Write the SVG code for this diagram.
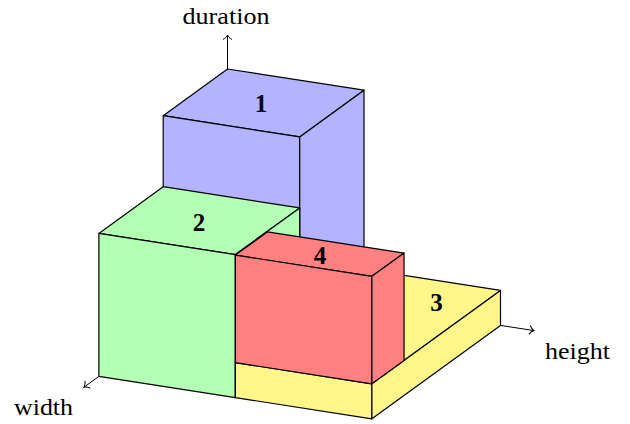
<svg xmlns="http://www.w3.org/2000/svg" width="630" height="424" viewBox="0 0 630 424">
<style>
.f{stroke:#000;stroke-width:1.2;stroke-linejoin:round}
.b{fill:#b3b3ff}.g{fill:#b3ffb3}.y{fill:#fff68a}.r{fill:#ff8080}
.ax{stroke:#000;stroke-width:1;fill:none}
.lab{font-family:"Liberation Serif","Times New Roman",serif;font-size:23px;fill:#000}
.num{font-family:"Liberation Serif","Times New Roman",serif;font-size:25px;font-weight:bold;fill:#000;text-anchor:middle}
</style>
<defs>
<marker id="to" viewBox="-6 -6 8 12" markerWidth="8" markerHeight="12" refX="0" refY="0" orient="auto" markerUnits="userSpaceOnUse">
<path d="M-4.5,-4.5 C-3,-1.8 -1.2,-0.5 0,0 C-1.2,0.5 -3,1.8 -4.5,4.5" fill="none" stroke="#000" stroke-width="1"/>
</marker>
</defs>
<g id="connectors">
<line class="ax" x1="227.5" y1="69" x2="227.5" y2="35" marker-end="url(#to)"/>
<line class="ax" x1="98.9" y1="376.4" x2="84" y2="387.2" marker-end="url(#to)"/>
<line class="ax" x1="500.5" y1="325.4" x2="534" y2="330.6" marker-end="url(#to)"/>
</g>
<g id="box1">
<polygon class="f b" points="227.5,69 163.2,115.7 299.7,136.9 364,90.2"/>
<polygon class="f b" points="163.2,115.7 299.7,136.9 299.7,350.9 163.2,329.7"/>
<polygon class="f b" points="299.7,136.9 364,90.2 364,304.2 299.7,350.9"/>
<text class="num" x="261" y="112">1</text>
</g>
<g id="box2">
<polygon class="f g" points="163.2,186.7 98.9,233.4 235.4,254.6 299.7,207.9"/>
<polygon class="f g" points="98.9,233.4 235.4,254.6 235.4,397.6 98.9,376.4"/>
<polygon class="f g" points="235.4,254.6 299.7,207.9 299.7,350.9 235.4,397.6"/>
<text class="num" x="199" y="231">2</text>
</g>
<g id="box3">
<polygon class="f y" points="364,269.2 500.5,290.4 371.9,383.8 235.4,362.6"/>
<polygon class="f y" points="235.4,362.6 371.9,383.8 371.9,418.8 235.4,397.6"/>
<polygon class="f y" points="371.9,383.8 500.5,290.4 500.5,325.4 371.9,418.8"/>
<text class="num" x="436.5" y="311">3</text>
</g>
<g id="box4">
<polygon class="f r" points="267.55,231.85 235.4,255.1 371.9,276.3 404.05,253.05"/>
<polygon class="f r" points="235.4,255.1 371.9,276.3 371.9,383.8 235.4,362.6"/>
<polygon class="f r" points="371.9,276.3 404.05,253.05 404.05,360.55 371.9,383.8"/>
<text class="num" x="320" y="264">4</text>
</g>
<g id="labels">
<text class="lab" x="226" y="24" text-anchor="middle" textLength="87" lengthAdjust="spacingAndGlyphs">duration</text>
<text class="lab" x="14" y="415" textLength="59" lengthAdjust="spacingAndGlyphs">width</text>
<text class="lab" x="545" y="359" textLength="65" lengthAdjust="spacingAndGlyphs">height</text>
</g>
</svg>
